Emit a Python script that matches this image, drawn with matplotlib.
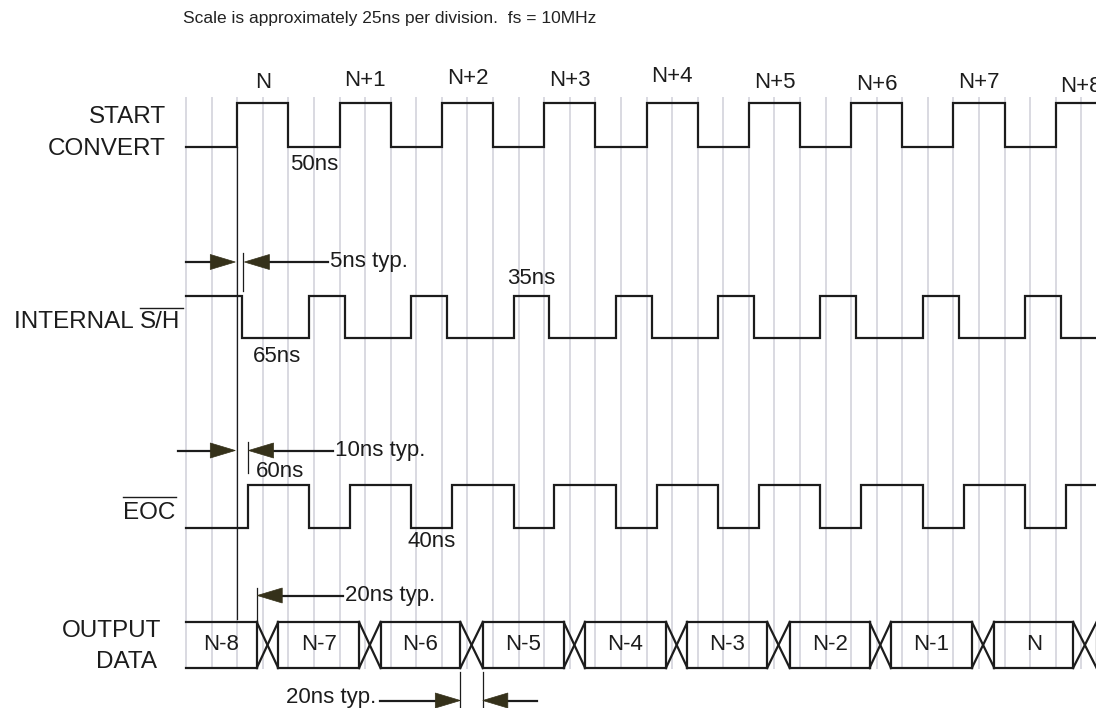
import matplotlib
matplotlib.use("Agg")
import matplotlib.pyplot as plt
from matplotlib.patches import Polygon

plt.rcParams['font.family'] = ['Liberation Sans', 'DejaVu Sans']

# edge times in ns (25ns per division)
start_rise = [0, 100, 200, 300, 400, 500, 600, 700, 800]
start_fall = [50, 150, 250, 350, 450, 550, 650, 750, 850]
sh_fall = [5, 105, 205, 305, 405, 505, 605, 705, 805]
sh_rise = [70, 170, 270, 370, 470, 570, 670, 770]
eoc_rise = [10, 110, 210, 310, 410, 510, 610, 710, 810]
eoc_fall = [70, 170, 270, 370, 470, 570, 670, 770]
data_change_start = [19, 119, 218, 319, 419, 518, 618, 718, 817]
data_change_end = [40, 140, 240, 340, 440, 540, 639, 740, 840]

pulse_labels = ['N', 'N+1', 'N+2', 'N+3', 'N+4', 'N+5', 'N+6', 'N+7', 'N+8']
pulse_label_y = [83, 80, 79, 81, 77, 83, 85, 82, 86]
data_labels = ['N-8', 'N-7', 'N-6', 'N-5', 'N-4', 'N-3', 'N-2', 'N-1', 'N']

DIV = 25          # ns per division
T_BEGIN = -50     # waveforms start here
T_END = 870

# layout: x axis in ns, y axis in pixels from the top
PX_PER_NS = 1.023
X0 = 237.3
W, H = 1096, 708

LINE = '#1c1c1c'
HEAD = '#35311a'
GRID = '#d9d9e1'

fig = plt.figure(figsize=(W / 100, H / 100), dpi=100)
ax = fig.add_axes([0, 0, 1, 1])
ax.set_xlim(-X0 / PX_PER_NS, (W - X0) / PX_PER_NS)
ax.set_ylim(H, 0)
ax.axis('off')


def px(n):
    # horizontal pixel length -> ns
    return n / PX_PER_NS


# grid
t = T_BEGIN
while t < T_END:
    ax.plot([t, t], [98, 668], color=GRID, lw=1.4, zorder=0)
    t += DIV


def wave(rises, falls, high_first, y_hi, y_lo):
    edges = sorted([(r, True) for r in rises] + [(f, False) for f in falls])
    level = high_first
    xs, ys = [T_BEGIN], [y_hi if level else y_lo]
    for te, new in edges:
        xs += [te, te]
        ys += [y_hi if level else y_lo, y_hi if new else y_lo]
        level = new
    xs.append(T_END)
    ys.append(y_hi if level else y_lo)
    ax.plot(xs, ys, color=LINE, lw=1.6, solid_joinstyle='miter', zorder=3)


wave(start_rise, start_fall, False, 102.5, 146.5)
wave(sh_rise, sh_fall, True, 296, 338)
wave(eoc_rise, eoc_fall, False, 485, 528)

# output data bus
top, bot = 622, 668
box_start = [T_BEGIN] + data_change_end
box_end = data_change_start + [T_END]
for i, (a, b) in enumerate(zip(box_start, box_end)):
    ax.plot([a, b], [top, top], color=LINE, lw=1.6, zorder=3)
    ax.plot([a, b], [bot, bot], color=LINE, lw=1.6, zorder=3)
    if i < len(data_labels):
        ax.text((a + b) / 2, 645, data_labels[i],
                ha='center', va='center', fontsize=16, color=LINE)
for a, b in zip(data_change_start, data_change_end):
    ax.plot([a, a], [top, bot], color=LINE, lw=1.6, zorder=3)
    ax.plot([b, b], [top, bot], color=LINE, lw=1.6, zorder=3)
    ax.plot([a, b], [top, bot], color=LINE, lw=1.6, zorder=3)
    ax.plot([a, b], [bot, top], color=LINE, lw=1.6, zorder=3)

# pulse numbers
for r, lab, ly in zip(start_rise, pulse_labels, pulse_label_y):
    ax.text(r + DIV, ly, lab, ha='center', va='center', fontsize=16, color=LINE)

# reference line at the convert edge
ax.plot([start_rise[0]] * 2, [147, 619], color=LINE, lw=0.9, zorder=2)


def tick(tt, y0, y1):
    ax.plot([tt, tt], [y0, y1], color=LINE, lw=0.9, zorder=2)


def arrow(tip, tail, y):
    # shaft plus filled head pointing from tail to tip
    d = 1 if tip > tail else -1
    ln = px(25)
    ax.plot([tail, tip - d * ln], [y, y], color=LINE, lw=1.6, zorder=4)
    ax.add_patch(Polygon([[tip, y], [tip - d * ln, y - 7.5], [tip - d * ln, y + 7.5]],
                         closed=True, facecolor=HEAD, edgecolor=HEAD, lw=0.5, zorder=4))


# 5ns typ.
arrow(start_rise[0] - px(2), T_BEGIN, 262)
tick(sh_fall[0] + px(1), 253, 291)
arrow(sh_fall[0] + px(2), px(328 - X0), 262)
ax.text(px(330 - X0), 262, '5ns typ.', ha='left', va='center', fontsize=16, color=LINE)

# 10ns typ.
arrow(start_rise[0] - px(2), px(178 - X0), 450.5)
tick(eoc_rise[0], 442, 473)
arrow(eoc_rise[0] + px(1), px(333 - X0), 450.5)
ax.text(px(335 - X0), 450.5, '10ns typ.', ha='left', va='center', fontsize=16, color=LINE)

# 20ns typ. (delay to data change)
tick(data_change_start[0], 588, top)
arrow(data_change_start[0] + px(0.5), px(343 - X0), 595.5)
ax.text(px(345 - X0), 595.5, '20ns typ.', ha='left', va='center', fontsize=16, color=LINE)

# 20ns typ. (data transition width)
tick(data_change_start[2], 672, 708)
tick(data_change_end[2], 672, 708)
arrow(data_change_start[2], px(380 - X0), 700.5)
arrow(data_change_end[2], px(537 - X0), 700.5)
ax.text(px(286.5 - X0), 698, '20ns typ.', ha='left', va='center', fontsize=16, color=LINE)

# pulse widths
ax.text(start_fall[0] + px(2), 164, '50ns', ha='left', va='center', fontsize=16, color=LINE)
ax.text(px(252.7 - X0), 356, '65ns', ha='left', va='center', fontsize=16, color=LINE)
ax.text(sh_rise[2] - px(6), 278, '35ns', ha='left', va='center', fontsize=16, color=LINE)
ax.text(px(256 - X0), 471.5, '60ns', ha='left', va='center', fontsize=16, color=LINE)
ax.text(eoc_fall[1] - px(4), 541.5, '40ns', ha='left', va='center', fontsize=16, color=LINE)

# signal names
ax.text(px(166 - X0), 117, 'START', ha='right', va='center', fontsize=17.5, color=LINE)
ax.text(px(166 - X0), 149, 'CONVERT', ha='right', va='center', fontsize=17.5, color=LINE)
sh = ax.text(px(180 - X0), 321.5, 'S/H', ha='right', va='center', fontsize=17.5, color=LINE)
eoc = ax.text(px(175 - X0), 513.3, 'EOC', ha='right', va='center', fontsize=17.5, color=LINE)
ax.text(px(161 - X0), 630.7, 'OUTPUT', ha='right', va='center', fontsize=17.5, color=LINE)
ax.text(px(157 - X0), 661.7, 'DATA', ha='right', va='center', fontsize=17.5, color=LINE)

ax.text(px(182.7 - X0), 19, 'Scale is approximately 25ns per division.  fs = 10MHz',
        ha='left', va='center', fontsize=12.5, color='#222222')

fig.canvas.draw()
inv = ax.transData.inverted()
bb = sh.get_window_extent()
left = inv.transform((bb.x0, bb.y0))[0]
ax.text(left, 321.5, 'INTERNAL ', ha='right', va='center', fontsize=17.5, color=LINE)
ax.plot([left, px(182.7 - X0)], [308.3, 308.3], color=LINE, lw=1.0)
bb = eoc.get_window_extent()
left = inv.transform((bb.x0, bb.y0))[0]
ax.plot([left, px(176 - X0)], [497.3, 497.3], color=LINE, lw=1.0)

fig.savefig('out.png', dpi=100)
